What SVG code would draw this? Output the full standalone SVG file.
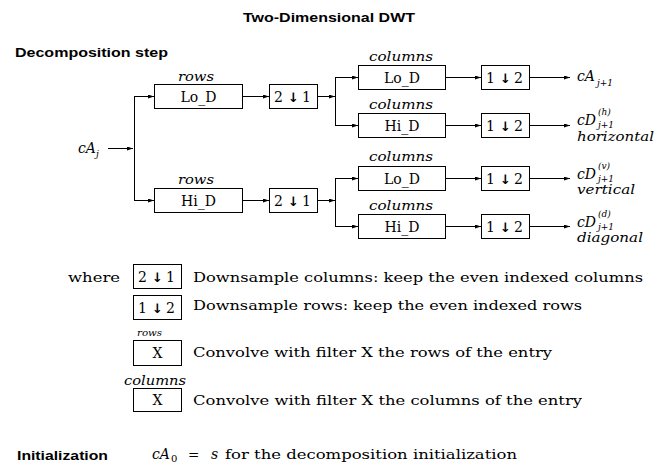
<svg xmlns="http://www.w3.org/2000/svg" width="667" height="464" viewBox="0 0 667 464">
<style>
.bg{fill:#fff}
.hd{font-family:"Liberation Sans",Arial,sans-serif;font-weight:bold;font-size:13px;fill:#000}
.lb{font-family:"DejaVu Serif","Liberation Serif",serif;font-size:14px;fill:#000;text-anchor:middle}
.tx{font-family:"DejaVu Serif","Liberation Serif",serif;font-size:13.5px;fill:#000}
.it{font-family:"DejaVu Serif","Liberation Serif",serif;font-style:italic;font-size:13px;fill:#000}
.itc{font-family:"DejaVu Serif","Liberation Serif",serif;font-style:italic;font-size:13px;fill:#000;text-anchor:middle}
.mi{font-family:"DejaVu Serif","Liberation Serif",serif;font-style:italic;font-size:14px;fill:#000}
.sb{font-family:"DejaVu Serif","Liberation Serif",serif;font-style:italic;font-size:9px;fill:#000}
.ar{font-family:"DejaVu Sans","Liberation Sans",sans-serif;font-weight:bold;font-size:13px}
.box{fill:#fff;stroke:#000;stroke-width:1}
.ln{fill:none;stroke:#000;stroke-width:1}
</style>
<defs>
<marker id="ah" viewBox="0 0 6 4" refX="6" refY="2" markerWidth="6" markerHeight="4" markerUnits="userSpaceOnUse" orient="auto">
<path d="M0,0 L6,2 L0,4 z" fill="#000"/>
</marker>
</defs>
<rect class="bg" x="0" y="0" width="667" height="464"/>

<text class="hd" x="243" y="21.5" textLength="172" lengthAdjust="spacingAndGlyphs">Two-Dimensional DWT</text>
<text class="hd" x="15" y="57" textLength="153" lengthAdjust="spacingAndGlyphs">Decomposition step</text>
<text class="hd" x="17" y="460" textLength="91" lengthAdjust="spacingAndGlyphs">Initialization</text>

<g id="connectors">
<path class="ln" d="M108,148.5 H133" marker-end="url(#ah)"/>
<path class="ln" d="M134.5,96.5 V200.5"/>
<path class="ln" d="M134,96.5 H154" marker-end="url(#ah)"/>
<path class="ln" d="M134,200.5 H154" marker-end="url(#ah)"/>
<path class="ln" d="M242.5,96.5 H269" marker-end="url(#ah)"/>
<path class="ln" d="M242.5,200.5 H269" marker-end="url(#ah)"/>
<path class="ln" d="M317.5,96.5 H335" marker-end="url(#ah)"/>
<path class="ln" d="M317.5,200.5 H335" marker-end="url(#ah)"/>
<path class="ln" d="M335.5,77.5 V125.5"/>
<path class="ln" d="M335.5,178.5 V226.5"/>
<path class="ln" d="M335,77.5 H358" marker-end="url(#ah)"/>
<path class="ln" d="M335,125.5 H358" marker-end="url(#ah)"/>
<path class="ln" d="M335,178.5 H358" marker-end="url(#ah)"/>
<path class="ln" d="M335,226.5 H358" marker-end="url(#ah)"/>
<path class="ln" d="M445.5,77.5 H481" marker-end="url(#ah)"/>
<path class="ln" d="M445.5,125.5 H481" marker-end="url(#ah)"/>
<path class="ln" d="M445.5,178.5 H481" marker-end="url(#ah)"/>
<path class="ln" d="M445.5,226.5 H481" marker-end="url(#ah)"/>
<path class="ln" d="M529.5,77.5 H570" marker-end="url(#ah)"/>
<path class="ln" d="M529.5,125.5 H570" marker-end="url(#ah)"/>
<path class="ln" d="M529.5,178.5 H570" marker-end="url(#ah)"/>
<path class="ln" d="M529.5,226.5 H570" marker-end="url(#ah)"/>
</g>

<g id="node-cAj">
<text class="mi" x="78" y="153">cA<tspan class="sb" dy="4">j</tspan></text>
</g>

<g id="node-rows-lo">
<text class="itc" x="196" y="81" textLength="36" lengthAdjust="spacingAndGlyphs">rows</text>
<rect class="box" x="154.5" y="84.5" width="88" height="24"/>
<text class="lb" x="198.5" y="101.5">Lo_D</text>
</g>
<g id="node-rows-hi">
<text class="itc" x="196" y="184" textLength="36" lengthAdjust="spacingAndGlyphs">rows</text>
<rect class="box" x="154.5" y="188.5" width="88" height="24"/>
<text class="lb" x="198.5" y="205.5">Hi_D</text>
</g>

<g id="node-ds21-top">
<rect class="box" x="269.5" y="84.5" width="48" height="24"/>
<text class="lb" y="101.5"><tspan x="278.5">2</tspan><tspan class="ar" x="293.5">↓</tspan><tspan x="306.5">1</tspan></text>
</g>
<g id="node-ds21-bot">
<rect class="box" x="269.5" y="188.5" width="48" height="24"/>
<text class="lb" y="205.5"><tspan x="278.5">2</tspan><tspan class="ar" x="293.5">↓</tspan><tspan x="306.5">1</tspan></text>
</g>

<g id="node-col-lo1">
<text class="itc" x="401" y="61" textLength="64" lengthAdjust="spacingAndGlyphs">columns</text>
<rect class="box" x="358.5" y="65.5" width="87" height="24"/>
<text class="lb" x="402" y="82.5">Lo_D</text>
</g>
<g id="node-col-hi1">
<text class="itc" x="401" y="109" textLength="64" lengthAdjust="spacingAndGlyphs">columns</text>
<rect class="box" x="358.5" y="113.5" width="87" height="24"/>
<text class="lb" x="402" y="130.5">Hi_D</text>
</g>
<g id="node-col-lo2">
<text class="itc" x="401" y="161" textLength="64" lengthAdjust="spacingAndGlyphs">columns</text>
<rect class="box" x="358.5" y="166.5" width="87" height="24"/>
<text class="lb" x="402" y="183.5">Lo_D</text>
</g>
<g id="node-col-hi2">
<text class="itc" x="401" y="209.5" textLength="64" lengthAdjust="spacingAndGlyphs">columns</text>
<rect class="box" x="358.5" y="214.5" width="87" height="24"/>
<text class="lb" x="402" y="231.5">Hi_D</text>
</g>

<g id="node-ds12-1">
<rect class="box" x="481.5" y="65.5" width="48" height="24"/>
<text class="lb" y="82.5"><tspan x="490.5">1</tspan><tspan class="ar" x="505.5">↓</tspan><tspan x="518.5">2</tspan></text>
</g>
<g id="node-ds12-2">
<rect class="box" x="481.5" y="113.5" width="48" height="24"/>
<text class="lb" y="130.5"><tspan x="490.5">1</tspan><tspan class="ar" x="505.5">↓</tspan><tspan x="518.5">2</tspan></text>
</g>
<g id="node-ds12-3">
<rect class="box" x="481.5" y="166.5" width="48" height="24"/>
<text class="lb" y="183.5"><tspan x="490.5">1</tspan><tspan class="ar" x="505.5">↓</tspan><tspan x="518.5">2</tspan></text>
</g>
<g id="node-ds12-4">
<rect class="box" x="481.5" y="214.5" width="48" height="24"/>
<text class="lb" y="231.5"><tspan x="490.5">1</tspan><tspan class="ar" x="505.5">↓</tspan><tspan x="518.5">2</tspan></text>
</g>

<g id="node-out-cA">
<text class="mi" x="577" y="81">cA</text>
<text class="sb" x="597" y="85.5">j+1</text>
</g>
<g id="node-out-h">
<text class="mi" x="577" y="125">cD</text>
<text class="sb" x="598" y="115">(h)</text>
<text class="sb" x="598" y="128">j+1</text>
<text class="it" x="577" y="141" textLength="77" lengthAdjust="spacingAndGlyphs">horizontal</text>
</g>
<g id="node-out-v">
<text class="mi" x="577" y="178.5">cD</text>
<text class="sb" x="598" y="168.5">(v)</text>
<text class="sb" x="598" y="181.5">j+1</text>
<text class="it" x="577" y="194" textLength="58" lengthAdjust="spacingAndGlyphs">vertical</text>
</g>
<g id="node-out-d">
<text class="mi" x="577" y="226.5">cD</text>
<text class="sb" x="598" y="216.5">(d)</text>
<text class="sb" x="598" y="229.5">j+1</text>
<text class="it" x="577" y="242" textLength="66" lengthAdjust="spacingAndGlyphs">diagonal</text>
</g>

<g id="legend">
<text class="tx" x="68" y="281.5" textLength="52" lengthAdjust="spacingAndGlyphs">where</text>
<rect class="box" x="133.5" y="264.5" width="48" height="24"/>
<text class="lb" y="281.5"><tspan x="142.5">2</tspan><tspan class="ar" x="157.5">↓</tspan><tspan x="170.5">1</tspan></text>
<text class="tx" x="193" y="281.5" textLength="450" lengthAdjust="spacingAndGlyphs">Downsample columns: keep the even indexed columns</text>
<rect class="box" x="133.5" y="295.5" width="48" height="24"/>
<text class="lb" y="312.5"><tspan x="142.5">1</tspan><tspan class="ar" x="157.5">↓</tspan><tspan x="170.5">2</tspan></text>
<text class="tx" x="193" y="310" textLength="389" lengthAdjust="spacingAndGlyphs">Downsample rows: keep the even indexed rows</text>
<text class="it" x="137" y="336" textLength="25" lengthAdjust="spacingAndGlyphs" style="font-size:10px">rows</text>
<rect class="box" x="133.5" y="340.5" width="48" height="25"/>
<text class="lb" x="157.5" y="358">X</text>
<text class="tx" x="193" y="356.5" textLength="359" lengthAdjust="spacingAndGlyphs">Convolve with filter X the rows of the entry</text>
<text class="it" x="124" y="385" textLength="62" lengthAdjust="spacingAndGlyphs">columns</text>
<rect class="box" x="133.5" y="388.5" width="48" height="23"/>
<text class="lb" x="157.5" y="405">X</text>
<text class="tx" x="193" y="404.5" textLength="389" lengthAdjust="spacingAndGlyphs">Convolve with filter X the columns of the entry</text>
</g>

<g id="init">
<text class="mi" x="152" y="459">cA</text>
<text class="tx" x="171" y="462" style="font-size:10px">0</text>
<text class="tx" x="188" y="459">=</text>
<text class="mi" x="211" y="459">s</text>
<text class="tx" x="225" y="459" textLength="292" lengthAdjust="spacingAndGlyphs">for the decomposition initialization</text>
</g>
</svg>
